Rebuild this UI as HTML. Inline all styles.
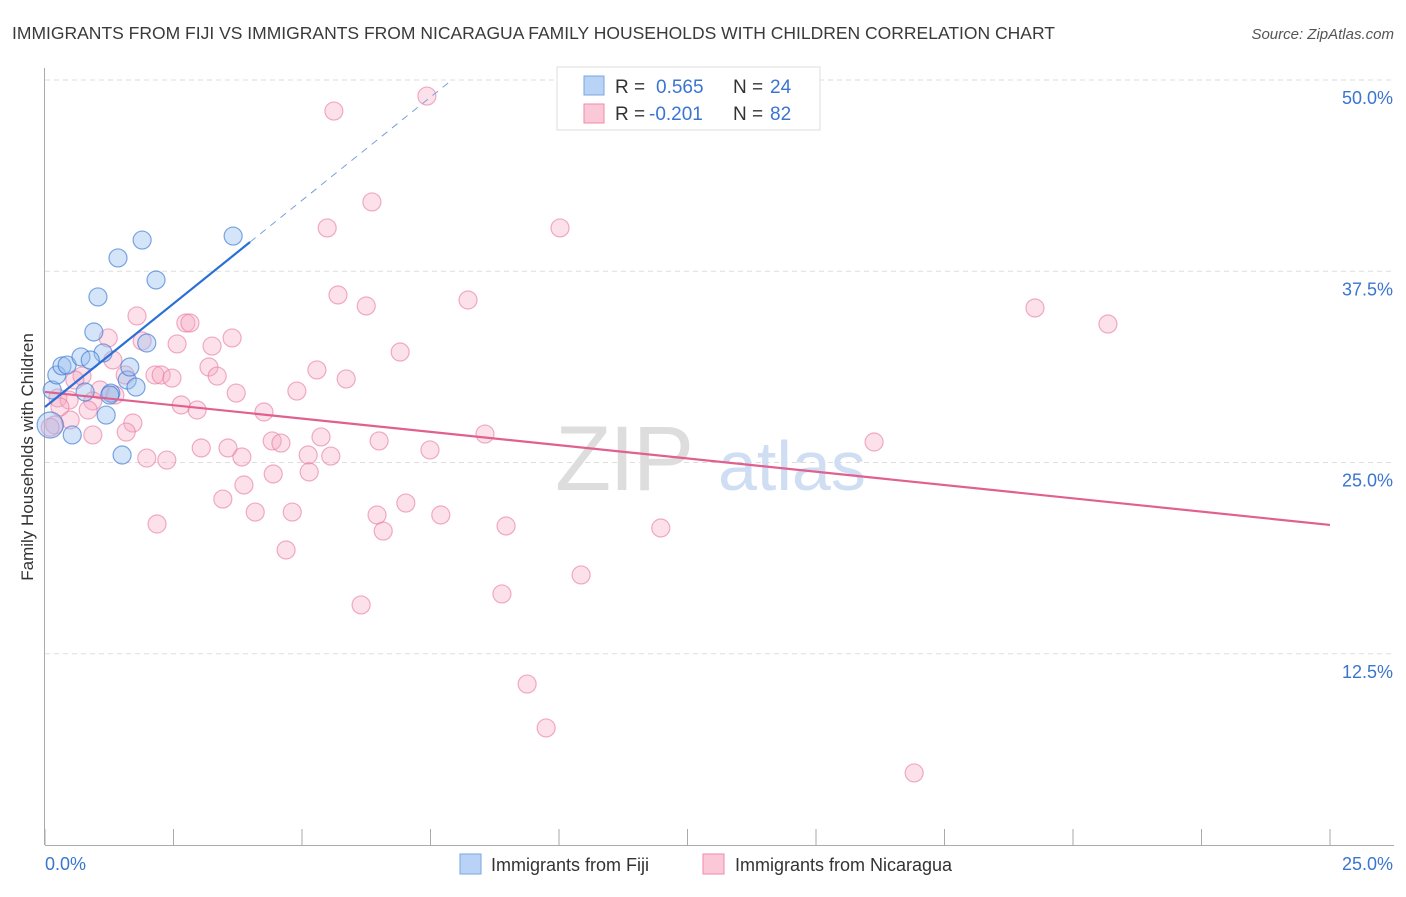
<!DOCTYPE html>
<html><head><meta charset="utf-8"><style>
body{margin:0;background:#fff;font-family:"Liberation Sans",sans-serif;}
svg text{font-family:"Liberation Sans",sans-serif;}
</style></head><body>
<svg id="chart" width="1406" height="892" xmlns="http://www.w3.org/2000/svg">
<text x="12" y="39" font-size="17.5" fill="#3a3a3a">IMMIGRANTS FROM FIJI VS IMMIGRANTS FROM NICARAGUA FAMILY HOUSEHOLDS WITH CHILDREN CORRELATION CHART</text>
<text x="1394" y="39" font-size="15" fill="#555" font-style="italic" text-anchor="end">Source: ZipAtlas.com</text>
<text transform="translate(33,457) rotate(-90)" font-size="17" fill="#333" text-anchor="middle">Family Households with Children</text>
<g id="grid"></g>
<g><text x="555" y="490" font-size="92" fill="#ddd" font-family="Liberation Serif" letter-spacing="-2">ZIP</text><text x="718" y="490" font-size="70" fill="#cfdef3">atlas</text></g>
<g id="pts"></g>
<g id="lines"></g>
<g>
<rect x="557" y="67" width="263" height="63" fill="#fff" stroke="#ddd"/>
<rect x="584" y="76" width="20" height="19" fill="#b8d3f5" stroke="#7aa7e0"/>
<rect x="584" y="104" width="20" height="19" fill="#fbc8d7" stroke="#f08aab"/>
<text x="615" y="93" font-size="19" fill="#333">R =</text><text x="656" y="93" font-size="19" fill="#3a75d0">0.565</text>
<text x="733" y="93" font-size="19" fill="#333">N =</text><text x="770" y="93" font-size="19" fill="#3a75d0">24</text>
<text x="615" y="120" font-size="19" fill="#333">R =</text><text x="649" y="120" font-size="19" fill="#3a75d0">-0.201</text>
<text x="733" y="120" font-size="19" fill="#333">N =</text><text x="770" y="120" font-size="19" fill="#3a75d0">82</text>
</g>
<g>
<rect x="460" y="854" width="21" height="20" fill="#b8d3f5" stroke="#7aa7e0"/>
<text x="491" y="871" font-size="18" fill="#333">Immigrants from Fiji</text>
<rect x="703" y="854" width="21" height="20" fill="#fbc8d7" stroke="#f08aab"/>
<text x="735" y="871" font-size="18" fill="#333">Immigrants from Nicaragua</text>
</g>
</svg>
<script>
const fijiX=[0.14,0.10,0.23,0.33,0.43,0.53,0.70,0.78,0.95,1.03,1.13,1.19,1.28,1.42,1.50,1.60,1.65,1.77,1.89,1.98,2.16,3.66,0.88,1.26];
const fijiY=[29.74,27.45,30.72,31.31,31.37,26.80,31.90,29.61,33.53,35.82,32.16,28.10,29.54,38.37,25.49,30.39,31.24,29.93,39.54,32.81,36.93,39.80,31.70,29.41];
const nicX=[5.62,7.43,6.36,5.49,10.02,5.70,6.25,8.23,19.26,20.68,1.79,2.74,2.82,1.23,3.64,1.89,2.57,3.25,6.91,1.32,3.19,5.29,0.72,2.14,2.26,2.47,3.35,5.86,1.56,4.90,3.72,1.07,1.36,0.25,0.47,0.93,2.65,2.96,0.84,4.26,1.71,1.58,0.93,5.37,6.50,8.56,4.42,4.59,16.13,3.04,3.56,7.49,5.12,5.56,3.83,1.98,2.37,4.44,5.14,3.87,3.46,7.02,4.09,4.81,6.46,7.70,8.97,2.18,6.58,11.98,4.69,10.43,8.89,6.15,9.38,9.75,16.91,0.19,0.49,0.29,0.58,0.10];
const nicY=[47.97,48.95,42.03,40.33,40.33,35.95,35.23,35.62,35.10,34.05,34.58,34.12,34.12,33.14,33.14,32.94,32.75,32.61,32.22,31.70,31.24,31.05,30.65,30.72,30.72,30.52,30.65,30.46,30.72,29.67,29.54,29.74,29.41,29.22,29.08,29.02,28.76,28.43,28.43,28.30,27.58,26.99,26.80,26.67,26.41,26.86,26.41,26.27,26.34,25.95,25.95,25.82,25.49,25.42,25.36,25.29,25.16,24.25,24.38,23.53,22.61,22.35,21.76,21.76,21.57,21.57,20.85,20.98,20.52,20.72,19.28,17.65,16.41,15.69,10.52,7.65,4.71,27.45,27.78,28.63,30.39,27.3];
const yTicks=[12.5,25,37.5,50];
const yTickLabels=["12.5%","25.0%","37.5%","50.0%"];
const xTicks=[0,2.5,5,7.5,10,12.5,15,17.5,20,22.5,25];
const fijiTrend=[[0,28.63],[3.99,39.41]];
const fijiTrendExt=[[3.99,39.41],[7.9,49.96]];
const nicTrend=[[0,29.61],[25,20.92]];
const NS="http://www.w3.org/2000/svg";
const sx=v=>45+v*51.4, sy=v=>845-v*15.3;
function mk(tag,attrs,parent){const e=document.createElementNS(NS,tag);for(const k in attrs)e.setAttribute(k,attrs[k]);parent.appendChild(e);return e;}
const grid=document.getElementById('grid');
yTicks.forEach((t,i)=>{
 const l=mk('line',{x1:45,x2:1394,y1:sy(t),y2:sy(t),stroke:'#ddd','stroke-dasharray':'5,4'},grid);
 
 
 const tx=mk('text',{x:1393,y:sy(t)+24,'font-size':18,fill:'#3a75d0','text-anchor':'end'},grid);
 tx.textContent=yTickLabels[i];
 
 
});
const ax=mk('line',{x1:44.5,x2:44.5,y1:68,y2:845,stroke:'#aaa'},grid);


const bx=mk('line',{x1:45,x2:1394,y1:845.5,y2:845.5,stroke:'#aaa'},grid);


xTicks.forEach(t=>{const l=mk('line',{x1:sx(t),x2:sx(t),y1:829,y2:845,stroke:'#aaa'},grid);
 
 });
const x0=mk('text',{x:45,y:870,'font-size':18,fill:'#3a75d0'},grid);x0.textContent='0.0%';


const x1=mk('text',{x:1393,y:870,'font-size':18,fill:'#3a75d0','text-anchor':'end'},grid);x1.textContent='25.0%';


const pts=document.getElementById('pts');
nicX.forEach((x,i)=>{const c=mk('circle',{cx:sx(x),cy:sy(nicY[i]),r:9,fill:'rgba(246,170,195,0.35)',stroke:'rgba(232,120,160,0.6)','stroke-width':1.2},pts);
 
 });
fijiX.forEach((x,i)=>{const c=mk('circle',{cx:sx(x),cy:sy(fijiY[i]),r:i==1?13:9,fill:'rgba(150,190,240,0.4)',stroke:'rgba(60,120,210,0.65)','stroke-width':1.2},pts);
 
 });
const lines=document.getElementById('lines');
const p=mk('line',{x1:sx(nicTrend[0][0]),y1:sy(nicTrend[0][1]),x2:sx(nicTrend[1][0]),y2:sy(nicTrend[1][1]),stroke:'#e0608f','stroke-width':2.2},lines);


const b=mk('line',{x1:sx(fijiTrend[0][0]),y1:sy(fijiTrend[0][1]),x2:sx(fijiTrend[1][0]),y2:sy(fijiTrend[1][1]),stroke:'#2a6fd6','stroke-width':2.2},lines);


const bd=mk('line',{x1:sx(fijiTrendExt[0][0]),y1:sy(fijiTrendExt[0][1]),x2:sx(fijiTrendExt[1][0]),y2:sy(fijiTrendExt[1][1]),stroke:'#7a9fd8','stroke-width':1,'stroke-dasharray':'7,6'},lines);


</script>
</body></html>
